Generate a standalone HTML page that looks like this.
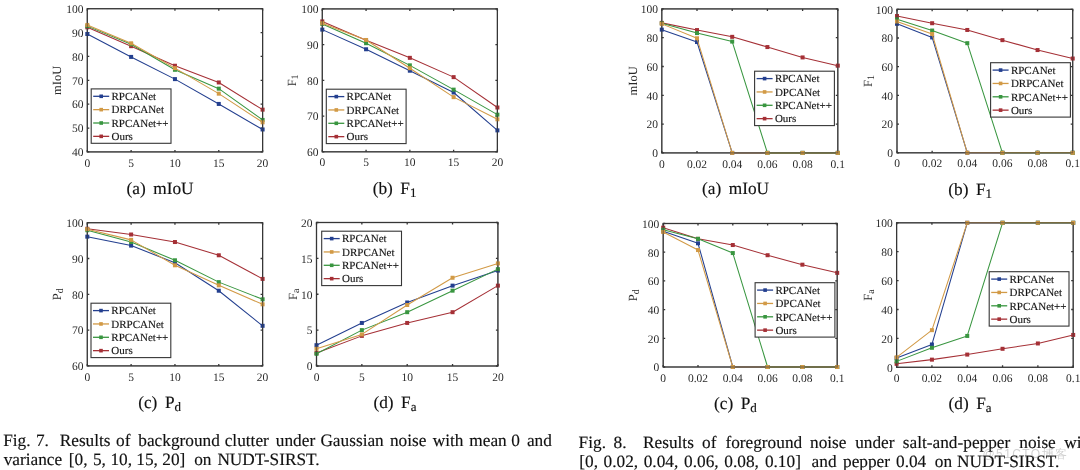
<!DOCTYPE html>
<html><head><meta charset="utf-8"><style>
html,body{margin:0;padding:0;background:#fff;}
svg text{text-rendering:geometricPrecision;}
body{width:1080px;height:470px;overflow:hidden;position:relative;filter:blur(0.35px);font-family:"Liberation Serif", serif;color:#1a1a1a;}
.cap{position:absolute;font-size:17px;line-height:18.8px;white-space:nowrap;}
.wm{position:absolute;left:982.5px;top:446px;font-family:"Liberation Sans",sans-serif;font-size:12px;letter-spacing:1.4px;line-height:normal;color:rgba(140,140,140,0.4);}
</style></head><body>
<svg width="1080" height="470" viewBox="0 0 1080 470" style="position:absolute;left:0;top:0;font-family:'Liberation Serif',serif"><rect x="87.3" y="8.7" width="175.3" height="143.2" fill="none" stroke="#363636" stroke-width="1.2"/><g stroke="#363636" stroke-width="1.3" fill="none"><path d="M87.3 151.9V149.9M87.3 8.7V10.7"/><path d="M131.12 151.9V149.9M131.12 8.7V10.7"/><path d="M174.95 151.9V149.9M174.95 8.7V10.7"/><path d="M218.78 151.9V149.9M218.78 8.7V10.7"/><path d="M262.6 151.9V149.9M262.6 8.7V10.7"/><path d="M87.3 151.9H89.3M262.6 151.9H260.6"/><path d="M87.3 128.03H89.3M262.6 128.03H260.6"/><path d="M87.3 104.17H89.3M262.6 104.17H260.6"/><path d="M87.3 80.3H89.3M262.6 80.3H260.6"/><path d="M87.3 56.43H89.3M262.6 56.43H260.6"/><path d="M87.3 32.57H89.3M262.6 32.57H260.6"/><path d="M87.3 8.7H89.3M262.6 8.7H260.6"/></g><path d="M87.3 34L131.12 56.91L174.95 79.11L218.78 103.93L262.6 129.47" stroke="#233f8f" stroke-width="1.05" fill="none" stroke-linejoin="round"/><rect x="85.3" y="32" width="4" height="4" fill="#233f8f"/><rect x="129.12" y="54.91" width="4" height="4" fill="#233f8f"/><rect x="172.95" y="77.11" width="4" height="4" fill="#233f8f"/><rect x="216.78" y="101.93" width="4" height="4" fill="#233f8f"/><rect x="260.6" y="127.47" width="4" height="4" fill="#233f8f"/><path d="M87.3 27.32L131.12 46.17L174.95 65.74L218.78 82.45L262.6 109.66" stroke="#a53036" stroke-width="1.05" fill="none" stroke-linejoin="round"/><rect x="85.3" y="25.32" width="4" height="4" fill="#a53036"/><rect x="129.12" y="44.17" width="4" height="4" fill="#a53036"/><rect x="172.95" y="63.74" width="4" height="4" fill="#a53036"/><rect x="216.78" y="80.45" width="4" height="4" fill="#a53036"/><rect x="260.6" y="107.66" width="4" height="4" fill="#a53036"/><path d="M87.3 26.12L131.12 44.26L174.95 69.8L218.78 88.65L262.6 119.92" stroke="#399640" stroke-width="1.05" fill="none" stroke-linejoin="round"/><rect x="85.3" y="24.12" width="4" height="4" fill="#399640"/><rect x="129.12" y="42.26" width="4" height="4" fill="#399640"/><rect x="172.95" y="67.8" width="4" height="4" fill="#399640"/><rect x="216.78" y="86.65" width="4" height="4" fill="#399640"/><rect x="260.6" y="117.92" width="4" height="4" fill="#399640"/><path d="M87.3 24.93L131.12 43.31L174.95 68.13L218.78 93.67L262.6 122.31" stroke="#d29a46" stroke-width="1.05" fill="none" stroke-linejoin="round"/><rect x="85.3" y="22.93" width="4" height="4" fill="#d29a46"/><rect x="129.12" y="41.31" width="4" height="4" fill="#d29a46"/><rect x="172.95" y="66.13" width="4" height="4" fill="#d29a46"/><rect x="216.78" y="91.67" width="4" height="4" fill="#d29a46"/><rect x="260.6" y="120.31" width="4" height="4" fill="#d29a46"/><rect x="87.3" y="8.7" width="175.3" height="143.2" fill="none" stroke="#363636" stroke-width="1.2" stroke-opacity="0.55"/><rect x="91.2" y="88.9" width="79.8" height="54.4" fill="#fff" stroke="#363636" stroke-width="1.1"/><path d="M93.2 96.3H109.2" stroke="#233f8f" stroke-width="1.3"/><rect x="99.4" y="94.5" width="3.6" height="3.6" fill="#233f8f"/><text x="111.5" y="100" font-size="11" fill="#151515" stroke="#151515" stroke-width="0.15">RPCANet</text><path d="M93.2 109.65H109.2" stroke="#d29a46" stroke-width="1.3"/><rect x="99.4" y="107.85" width="3.6" height="3.6" fill="#d29a46"/><text x="111.5" y="113.35" font-size="11" fill="#151515" stroke="#151515" stroke-width="0.15">DRPCANet</text><path d="M93.2 123H109.2" stroke="#399640" stroke-width="1.3"/><rect x="99.4" y="121.2" width="3.6" height="3.6" fill="#399640"/><text x="111.5" y="126.7" font-size="11" fill="#151515" stroke="#151515" stroke-width="0.15">RPCANet++</text><path d="M93.2 136.35H109.2" stroke="#a53036" stroke-width="1.3"/><rect x="99.4" y="134.55" width="3.6" height="3.6" fill="#a53036"/><text x="111.5" y="140.05" font-size="11" fill="#151515" stroke="#151515" stroke-width="0.15">Ours</text><g font-size="11.5" fill="#2a2a2a"><text x="87.3" y="166.5" text-anchor="middle">0</text><text x="131.12" y="166.5" text-anchor="middle">5</text><text x="174.95" y="166.5" text-anchor="middle">10</text><text x="218.78" y="166.5" text-anchor="middle">15</text><text x="262.6" y="166.5" text-anchor="middle">20</text><text x="83.4" y="156.2" text-anchor="end">40</text><text x="83.4" y="132.33" text-anchor="end">50</text><text x="83.4" y="108.47" text-anchor="end">60</text><text x="83.4" y="84.6" text-anchor="end">70</text><text x="83.4" y="60.73" text-anchor="end">80</text><text x="83.4" y="36.87" text-anchor="end">90</text><text x="83.4" y="13" text-anchor="end">100</text></g><text transform="translate(61.2 80.3) rotate(-90)" text-anchor="middle" font-size="12.5" fill="#2a2a2a">mIoU</text><rect x="322.3" y="8.9" width="175.1" height="142.9" fill="none" stroke="#363636" stroke-width="1.2"/><g stroke="#363636" stroke-width="1.3" fill="none"><path d="M322.3 151.8V149.8M322.3 8.9V10.9"/><path d="M366.07 151.8V149.8M366.07 8.9V10.9"/><path d="M409.85 151.8V149.8M409.85 8.9V10.9"/><path d="M453.62 151.8V149.8M453.62 8.9V10.9"/><path d="M497.4 151.8V149.8M497.4 8.9V10.9"/><path d="M322.3 151.8H324.3M497.4 151.8H495.4"/><path d="M322.3 116.08H324.3M497.4 116.08H495.4"/><path d="M322.3 80.35H324.3M497.4 80.35H495.4"/><path d="M322.3 44.62H324.3M497.4 44.62H495.4"/><path d="M322.3 8.9H324.3M497.4 8.9H495.4"/></g><path d="M322.3 29.62L366.07 49.27L409.85 70.7L453.62 92.5L497.4 130.37" stroke="#233f8f" stroke-width="1.05" fill="none" stroke-linejoin="round"/><rect x="320.3" y="27.62" width="4" height="4" fill="#233f8f"/><rect x="364.07" y="47.27" width="4" height="4" fill="#233f8f"/><rect x="407.85" y="68.7" width="4" height="4" fill="#233f8f"/><rect x="451.62" y="90.5" width="4" height="4" fill="#233f8f"/><rect x="495.4" y="128.37" width="4" height="4" fill="#233f8f"/><path d="M322.3 21.4L366.07 40.34L409.85 57.84L453.62 77.13L497.4 107.5" stroke="#a53036" stroke-width="1.05" fill="none" stroke-linejoin="round"/><rect x="320.3" y="19.4" width="4" height="4" fill="#a53036"/><rect x="364.07" y="38.34" width="4" height="4" fill="#a53036"/><rect x="407.85" y="55.84" width="4" height="4" fill="#a53036"/><rect x="451.62" y="75.13" width="4" height="4" fill="#a53036"/><rect x="495.4" y="105.5" width="4" height="4" fill="#a53036"/><path d="M322.3 23.9L366.07 43.2L409.85 65.35L453.62 89.64L497.4 114.65" stroke="#399640" stroke-width="1.05" fill="none" stroke-linejoin="round"/><rect x="320.3" y="21.9" width="4" height="4" fill="#399640"/><rect x="364.07" y="41.2" width="4" height="4" fill="#399640"/><rect x="407.85" y="63.35" width="4" height="4" fill="#399640"/><rect x="451.62" y="87.64" width="4" height="4" fill="#399640"/><rect x="495.4" y="112.65" width="4" height="4" fill="#399640"/><path d="M322.3 23.19L366.07 39.98L409.85 68.2L453.62 97.14L497.4 119.29" stroke="#d29a46" stroke-width="1.05" fill="none" stroke-linejoin="round"/><rect x="320.3" y="21.19" width="4" height="4" fill="#d29a46"/><rect x="364.07" y="37.98" width="4" height="4" fill="#d29a46"/><rect x="407.85" y="66.2" width="4" height="4" fill="#d29a46"/><rect x="451.62" y="95.14" width="4" height="4" fill="#d29a46"/><rect x="495.4" y="117.29" width="4" height="4" fill="#d29a46"/><rect x="322.3" y="8.9" width="175.1" height="142.9" fill="none" stroke="#363636" stroke-width="1.2" stroke-opacity="0.55"/><rect x="326.3" y="89.2" width="79.8" height="54.4" fill="#fff" stroke="#363636" stroke-width="1.1"/><path d="M328.3 96.6H344.3" stroke="#233f8f" stroke-width="1.3"/><rect x="334.5" y="94.8" width="3.6" height="3.6" fill="#233f8f"/><text x="346.6" y="100.3" font-size="11" fill="#151515" stroke="#151515" stroke-width="0.15">RPCANet</text><path d="M328.3 109.95H344.3" stroke="#d29a46" stroke-width="1.3"/><rect x="334.5" y="108.15" width="3.6" height="3.6" fill="#d29a46"/><text x="346.6" y="113.65" font-size="11" fill="#151515" stroke="#151515" stroke-width="0.15">DRPCANet</text><path d="M328.3 123.3H344.3" stroke="#399640" stroke-width="1.3"/><rect x="334.5" y="121.5" width="3.6" height="3.6" fill="#399640"/><text x="346.6" y="127" font-size="11" fill="#151515" stroke="#151515" stroke-width="0.15">RPCANet++</text><path d="M328.3 136.65H344.3" stroke="#a53036" stroke-width="1.3"/><rect x="334.5" y="134.85" width="3.6" height="3.6" fill="#a53036"/><text x="346.6" y="140.35" font-size="11" fill="#151515" stroke="#151515" stroke-width="0.15">Ours</text><g font-size="11.5" fill="#2a2a2a"><text x="322.3" y="166.4" text-anchor="middle">0</text><text x="366.07" y="166.4" text-anchor="middle">5</text><text x="409.85" y="166.4" text-anchor="middle">10</text><text x="453.62" y="166.4" text-anchor="middle">15</text><text x="497.4" y="166.4" text-anchor="middle">20</text><text x="318.4" y="156.1" text-anchor="end">60</text><text x="318.4" y="120.38" text-anchor="end">70</text><text x="318.4" y="84.65" text-anchor="end">80</text><text x="318.4" y="48.92" text-anchor="end">90</text><text x="318.4" y="13.2" text-anchor="end">100</text></g><text transform="translate(296.2 80.35) rotate(-90)" text-anchor="middle" font-size="12.5" fill="#2a2a2a">F<tspan font-size="10" dy="2">1</tspan></text><rect x="87.3" y="222.7" width="175.3" height="143.2" fill="none" stroke="#363636" stroke-width="1.2"/><g stroke="#363636" stroke-width="1.3" fill="none"><path d="M87.3 365.9V363.9M87.3 222.7V224.7"/><path d="M131.12 365.9V363.9M131.12 222.7V224.7"/><path d="M174.95 365.9V363.9M174.95 222.7V224.7"/><path d="M218.78 365.9V363.9M218.78 222.7V224.7"/><path d="M262.6 365.9V363.9M262.6 222.7V224.7"/><path d="M87.3 365.9H89.3M262.6 365.9H260.6"/><path d="M87.3 330.1H89.3M262.6 330.1H260.6"/><path d="M87.3 294.3H89.3M262.6 294.3H260.6"/><path d="M87.3 258.5H89.3M262.6 258.5H260.6"/><path d="M87.3 222.7H89.3M262.6 222.7H260.6"/></g><path d="M87.3 236.66L131.12 245.61L174.95 262.8L218.78 290.72L262.6 325.8" stroke="#233f8f" stroke-width="1.05" fill="none" stroke-linejoin="round"/><rect x="85.3" y="234.66" width="4" height="4" fill="#233f8f"/><rect x="129.12" y="243.61" width="4" height="4" fill="#233f8f"/><rect x="172.95" y="260.8" width="4" height="4" fill="#233f8f"/><rect x="216.78" y="288.72" width="4" height="4" fill="#233f8f"/><rect x="260.6" y="323.8" width="4" height="4" fill="#233f8f"/><path d="M87.3 228.79L131.12 234.51L174.95 242.03L218.78 255.28L262.6 278.91" stroke="#a53036" stroke-width="1.05" fill="none" stroke-linejoin="round"/><rect x="85.3" y="226.79" width="4" height="4" fill="#a53036"/><rect x="129.12" y="232.51" width="4" height="4" fill="#a53036"/><rect x="172.95" y="240.03" width="4" height="4" fill="#a53036"/><rect x="216.78" y="253.28" width="4" height="4" fill="#a53036"/><rect x="260.6" y="276.91" width="4" height="4" fill="#a53036"/><path d="M87.3 230.22L131.12 242.03L174.95 260.29L218.78 282.13L262.6 299.31" stroke="#399640" stroke-width="1.05" fill="none" stroke-linejoin="round"/><rect x="85.3" y="228.22" width="4" height="4" fill="#399640"/><rect x="129.12" y="240.03" width="4" height="4" fill="#399640"/><rect x="172.95" y="258.29" width="4" height="4" fill="#399640"/><rect x="216.78" y="280.13" width="4" height="4" fill="#399640"/><rect x="260.6" y="297.31" width="4" height="4" fill="#399640"/><path d="M87.3 229.14L131.12 239.88L174.95 265.3L218.78 285.35L262.6 304.32" stroke="#d29a46" stroke-width="1.05" fill="none" stroke-linejoin="round"/><rect x="85.3" y="227.14" width="4" height="4" fill="#d29a46"/><rect x="129.12" y="237.88" width="4" height="4" fill="#d29a46"/><rect x="172.95" y="263.3" width="4" height="4" fill="#d29a46"/><rect x="216.78" y="283.35" width="4" height="4" fill="#d29a46"/><rect x="260.6" y="302.32" width="4" height="4" fill="#d29a46"/><rect x="87.3" y="222.7" width="175.3" height="143.2" fill="none" stroke="#363636" stroke-width="1.2" stroke-opacity="0.55"/><rect x="91" y="303.2" width="79.8" height="54.4" fill="#fff" stroke="#363636" stroke-width="1.1"/><path d="M93 310.6H109" stroke="#233f8f" stroke-width="1.3"/><rect x="99.2" y="308.8" width="3.6" height="3.6" fill="#233f8f"/><text x="111.3" y="314.3" font-size="11" fill="#151515" stroke="#151515" stroke-width="0.15">RPCANet</text><path d="M93 323.95H109" stroke="#d29a46" stroke-width="1.3"/><rect x="99.2" y="322.15" width="3.6" height="3.6" fill="#d29a46"/><text x="111.3" y="327.65" font-size="11" fill="#151515" stroke="#151515" stroke-width="0.15">DRPCANet</text><path d="M93 337.3H109" stroke="#399640" stroke-width="1.3"/><rect x="99.2" y="335.5" width="3.6" height="3.6" fill="#399640"/><text x="111.3" y="341" font-size="11" fill="#151515" stroke="#151515" stroke-width="0.15">RPCANet++</text><path d="M93 350.65H109" stroke="#a53036" stroke-width="1.3"/><rect x="99.2" y="348.85" width="3.6" height="3.6" fill="#a53036"/><text x="111.3" y="354.35" font-size="11" fill="#151515" stroke="#151515" stroke-width="0.15">Ours</text><g font-size="11.5" fill="#2a2a2a"><text x="87.3" y="380.5" text-anchor="middle">0</text><text x="131.12" y="380.5" text-anchor="middle">5</text><text x="174.95" y="380.5" text-anchor="middle">10</text><text x="218.78" y="380.5" text-anchor="middle">15</text><text x="262.6" y="380.5" text-anchor="middle">20</text><text x="83.4" y="370.2" text-anchor="end">60</text><text x="83.4" y="334.4" text-anchor="end">70</text><text x="83.4" y="298.6" text-anchor="end">80</text><text x="83.4" y="262.8" text-anchor="end">90</text><text x="83.4" y="227" text-anchor="end">100</text></g><text transform="translate(61.2 294.3) rotate(-90)" text-anchor="middle" font-size="12.5" fill="#2a2a2a">P<tspan font-size="10" dy="2">d</tspan></text><rect x="316.5" y="222.5" width="181.4" height="143.5" fill="none" stroke="#363636" stroke-width="1.2"/><g stroke="#363636" stroke-width="1.3" fill="none"><path d="M316.5 366V364M316.5 222.5V224.5"/><path d="M361.85 366V364M361.85 222.5V224.5"/><path d="M407.2 366V364M407.2 222.5V224.5"/><path d="M452.55 366V364M452.55 222.5V224.5"/><path d="M497.9 366V364M497.9 222.5V224.5"/><path d="M316.5 366H318.5M497.9 366H495.9"/><path d="M316.5 330.12H318.5M497.9 330.12H495.9"/><path d="M316.5 294.25H318.5M497.9 294.25H495.9"/><path d="M316.5 258.38H318.5M497.9 258.38H495.9"/><path d="M316.5 222.5H318.5M497.9 222.5H495.9"/></g><path d="M316.5 345.19L361.85 322.95L407.2 302.5L452.55 285.64L497.9 270.57" stroke="#233f8f" stroke-width="1.05" fill="none" stroke-linejoin="round"/><rect x="314.5" y="343.19" width="4" height="4" fill="#233f8f"/><rect x="359.85" y="320.95" width="4" height="4" fill="#233f8f"/><rect x="405.2" y="300.5" width="4" height="4" fill="#233f8f"/><rect x="450.55" y="283.64" width="4" height="4" fill="#233f8f"/><rect x="495.9" y="268.57" width="4" height="4" fill="#233f8f"/><path d="M316.5 353.08L361.85 335.87L407.2 322.95L452.55 312.19L497.9 285.64" stroke="#a53036" stroke-width="1.05" fill="none" stroke-linejoin="round"/><rect x="314.5" y="351.08" width="4" height="4" fill="#a53036"/><rect x="359.85" y="333.87" width="4" height="4" fill="#a53036"/><rect x="405.2" y="320.95" width="4" height="4" fill="#a53036"/><rect x="450.55" y="310.19" width="4" height="4" fill="#a53036"/><rect x="495.9" y="283.64" width="4" height="4" fill="#a53036"/><path d="M316.5 353.8L361.85 330.12L407.2 312.19L452.55 290.66L497.9 269.14" stroke="#399640" stroke-width="1.05" fill="none" stroke-linejoin="round"/><rect x="314.5" y="351.8" width="4" height="4" fill="#399640"/><rect x="359.85" y="328.12" width="4" height="4" fill="#399640"/><rect x="405.2" y="310.19" width="4" height="4" fill="#399640"/><rect x="450.55" y="288.66" width="4" height="4" fill="#399640"/><rect x="495.9" y="267.14" width="4" height="4" fill="#399640"/><path d="M316.5 348.78L361.85 334.43L407.2 305.01L452.55 277.75L497.9 263.4" stroke="#d29a46" stroke-width="1.05" fill="none" stroke-linejoin="round"/><rect x="314.5" y="346.78" width="4" height="4" fill="#d29a46"/><rect x="359.85" y="332.43" width="4" height="4" fill="#d29a46"/><rect x="405.2" y="303.01" width="4" height="4" fill="#d29a46"/><rect x="450.55" y="275.75" width="4" height="4" fill="#d29a46"/><rect x="495.9" y="261.4" width="4" height="4" fill="#d29a46"/><rect x="316.5" y="222.5" width="181.4" height="143.5" fill="none" stroke="#363636" stroke-width="1.2" stroke-opacity="0.55"/><rect x="321.7" y="231.2" width="79.8" height="54.4" fill="#fff" stroke="#363636" stroke-width="1.1"/><path d="M323.7 238.6H339.7" stroke="#233f8f" stroke-width="1.3"/><rect x="329.9" y="236.8" width="3.6" height="3.6" fill="#233f8f"/><text x="342" y="242.3" font-size="11" fill="#151515" stroke="#151515" stroke-width="0.15">RPCANet</text><path d="M323.7 251.95H339.7" stroke="#d29a46" stroke-width="1.3"/><rect x="329.9" y="250.15" width="3.6" height="3.6" fill="#d29a46"/><text x="342" y="255.65" font-size="11" fill="#151515" stroke="#151515" stroke-width="0.15">DRPCANet</text><path d="M323.7 265.3H339.7" stroke="#399640" stroke-width="1.3"/><rect x="329.9" y="263.5" width="3.6" height="3.6" fill="#399640"/><text x="342" y="269" font-size="11" fill="#151515" stroke="#151515" stroke-width="0.15">RPCANet++</text><path d="M323.7 278.65H339.7" stroke="#a53036" stroke-width="1.3"/><rect x="329.9" y="276.85" width="3.6" height="3.6" fill="#a53036"/><text x="342" y="282.35" font-size="11" fill="#151515" stroke="#151515" stroke-width="0.15">Ours</text><g font-size="11.5" fill="#2a2a2a"><text x="316.5" y="380.6" text-anchor="middle">0</text><text x="361.85" y="380.6" text-anchor="middle">5</text><text x="407.2" y="380.6" text-anchor="middle">10</text><text x="452.55" y="380.6" text-anchor="middle">15</text><text x="497.9" y="380.6" text-anchor="middle">20</text><text x="312.6" y="370.3" text-anchor="end">0</text><text x="312.6" y="334.43" text-anchor="end">5</text><text x="312.6" y="298.55" text-anchor="end">10</text><text x="312.6" y="262.68" text-anchor="end">15</text><text x="312.6" y="226.8" text-anchor="end">20</text></g><text transform="translate(296.7 294.25) rotate(-90)" text-anchor="middle" font-size="12.5" fill="#2a2a2a">F<tspan font-size="10" dy="2">a</tspan></text><rect x="661.8" y="8.9" width="176" height="144" fill="none" stroke="#363636" stroke-width="1.2"/><g stroke="#363636" stroke-width="1.3" fill="none"><path d="M661.8 152.9V150.9M661.8 8.9V10.9"/><path d="M697 152.9V150.9M697 8.9V10.9"/><path d="M732.2 152.9V150.9M732.2 8.9V10.9"/><path d="M767.4 152.9V150.9M767.4 8.9V10.9"/><path d="M802.6 152.9V150.9M802.6 8.9V10.9"/><path d="M837.8 152.9V150.9M837.8 8.9V10.9"/><path d="M661.8 152.9H663.8M837.8 152.9H835.8"/><path d="M661.8 124.1H663.8M837.8 124.1H835.8"/><path d="M661.8 95.3H663.8M837.8 95.3H835.8"/><path d="M661.8 66.5H663.8M837.8 66.5H835.8"/><path d="M661.8 37.7H663.8M837.8 37.7H835.8"/><path d="M661.8 8.9H663.8M837.8 8.9H835.8"/></g><path d="M661.8 29.64L697 42.02L732.2 152.9L767.4 152.9L802.6 152.9L837.8 152.9" stroke="#233f8f" stroke-width="1.05" fill="none" stroke-linejoin="round"/><rect x="659.8" y="27.64" width="4" height="4" fill="#233f8f"/><rect x="695" y="40.02" width="4" height="4" fill="#233f8f"/><rect x="730.2" y="150.9" width="4" height="4" fill="#233f8f"/><rect x="765.4" y="150.9" width="4" height="4" fill="#233f8f"/><rect x="800.6" y="150.9" width="4" height="4" fill="#233f8f"/><rect x="835.8" y="150.9" width="4" height="4" fill="#233f8f"/><path d="M661.8 22.87L697 30.07L732.2 36.84L767.4 47.06L802.6 57.43L837.8 65.64" stroke="#a53036" stroke-width="1.05" fill="none" stroke-linejoin="round"/><rect x="659.8" y="20.87" width="4" height="4" fill="#a53036"/><rect x="695" y="28.07" width="4" height="4" fill="#a53036"/><rect x="730.2" y="34.84" width="4" height="4" fill="#a53036"/><rect x="765.4" y="45.06" width="4" height="4" fill="#a53036"/><rect x="800.6" y="55.43" width="4" height="4" fill="#a53036"/><rect x="835.8" y="63.64" width="4" height="4" fill="#a53036"/><path d="M661.8 23.3L697 33.09L732.2 41.59L767.4 152.9L802.6 152.9L837.8 152.9" stroke="#399640" stroke-width="1.05" fill="none" stroke-linejoin="round"/><rect x="659.8" y="21.3" width="4" height="4" fill="#399640"/><rect x="695" y="31.09" width="4" height="4" fill="#399640"/><rect x="730.2" y="39.59" width="4" height="4" fill="#399640"/><rect x="765.4" y="150.9" width="4" height="4" fill="#399640"/><rect x="800.6" y="150.9" width="4" height="4" fill="#399640"/><rect x="835.8" y="150.9" width="4" height="4" fill="#399640"/><path d="M661.8 23.88L697 38.28L732.2 152.9L767.4 152.9L802.6 152.9L837.8 152.9" stroke="#d29a46" stroke-width="1.05" fill="none" stroke-linejoin="round"/><rect x="659.8" y="21.88" width="4" height="4" fill="#d29a46"/><rect x="695" y="36.28" width="4" height="4" fill="#d29a46"/><rect x="730.2" y="150.9" width="4" height="4" fill="#d29a46"/><rect x="765.4" y="150.9" width="4" height="4" fill="#d29a46"/><rect x="800.6" y="150.9" width="4" height="4" fill="#d29a46"/><rect x="835.8" y="150.9" width="4" height="4" fill="#d29a46"/><rect x="661.8" y="8.9" width="176" height="144" fill="none" stroke="#363636" stroke-width="1.2" stroke-opacity="0.55"/><rect x="754.6" y="71.2" width="79.8" height="54.4" fill="#fff" stroke="#363636" stroke-width="1.1"/><path d="M756.6 78.6H772.6" stroke="#233f8f" stroke-width="1.3"/><rect x="762.8" y="76.8" width="3.6" height="3.6" fill="#233f8f"/><text x="774.9" y="82.3" font-size="11" fill="#151515" stroke="#151515" stroke-width="0.15">RPCANet</text><path d="M756.6 91.95H772.6" stroke="#d29a46" stroke-width="1.3"/><rect x="762.8" y="90.15" width="3.6" height="3.6" fill="#d29a46"/><text x="774.9" y="95.65" font-size="11" fill="#151515" stroke="#151515" stroke-width="0.15">DPCANet</text><path d="M756.6 105.3H772.6" stroke="#399640" stroke-width="1.3"/><rect x="762.8" y="103.5" width="3.6" height="3.6" fill="#399640"/><text x="774.9" y="109" font-size="11" fill="#151515" stroke="#151515" stroke-width="0.15">RPCANet++</text><path d="M756.6 118.65H772.6" stroke="#a53036" stroke-width="1.3"/><rect x="762.8" y="116.85" width="3.6" height="3.6" fill="#a53036"/><text x="774.9" y="122.35" font-size="11" fill="#151515" stroke="#151515" stroke-width="0.15">Ours</text><g font-size="11.5" fill="#2a2a2a"><text x="661.8" y="167.5" text-anchor="middle">0</text><text x="697" y="167.5" text-anchor="middle">0.02</text><text x="732.2" y="167.5" text-anchor="middle">0.04</text><text x="767.4" y="167.5" text-anchor="middle">0.06</text><text x="802.6" y="167.5" text-anchor="middle">0.08</text><text x="837.8" y="167.5" text-anchor="middle">0.1</text><text x="657.9" y="157.2" text-anchor="end">0</text><text x="657.9" y="128.4" text-anchor="end">20</text><text x="657.9" y="99.6" text-anchor="end">40</text><text x="657.9" y="70.8" text-anchor="end">60</text><text x="657.9" y="42" text-anchor="end">80</text><text x="657.9" y="13.2" text-anchor="end">100</text></g><text transform="translate(637.2 80.9) rotate(-90)" text-anchor="middle" font-size="12.5" fill="#2a2a2a">mIoU</text><rect x="897" y="9.3" width="175.7" height="143.5" fill="none" stroke="#363636" stroke-width="1.2"/><g stroke="#363636" stroke-width="1.3" fill="none"><path d="M897 152.8V150.8M897 9.3V11.3"/><path d="M932.14 152.8V150.8M932.14 9.3V11.3"/><path d="M967.28 152.8V150.8M967.28 9.3V11.3"/><path d="M1002.42 152.8V150.8M1002.42 9.3V11.3"/><path d="M1037.56 152.8V150.8M1037.56 9.3V11.3"/><path d="M1072.7 152.8V150.8M1072.7 9.3V11.3"/><path d="M897 152.8H899M1072.7 152.8H1070.7"/><path d="M897 124.1H899M1072.7 124.1H1070.7"/><path d="M897 95.4H899M1072.7 95.4H1070.7"/><path d="M897 66.7H899M1072.7 66.7H1070.7"/><path d="M897 38H899M1072.7 38H1070.7"/><path d="M897 9.3H899M1072.7 9.3H1070.7"/></g><path d="M897 23.79L932.14 37.43L967.28 152.8L1002.42 152.8L1037.56 152.8L1072.7 152.8" stroke="#233f8f" stroke-width="1.05" fill="none" stroke-linejoin="round"/><rect x="895" y="21.79" width="4" height="4" fill="#233f8f"/><rect x="930.14" y="35.43" width="4" height="4" fill="#233f8f"/><rect x="965.28" y="150.8" width="4" height="4" fill="#233f8f"/><rect x="1000.42" y="150.8" width="4" height="4" fill="#233f8f"/><rect x="1035.56" y="150.8" width="4" height="4" fill="#233f8f"/><rect x="1070.7" y="150.8" width="4" height="4" fill="#233f8f"/><path d="M897 16.04L932.14 23.22L967.28 29.96L1002.42 40.15L1037.56 50.05L1072.7 58.52" stroke="#a53036" stroke-width="1.05" fill="none" stroke-linejoin="round"/><rect x="895" y="14.04" width="4" height="4" fill="#a53036"/><rect x="930.14" y="21.22" width="4" height="4" fill="#a53036"/><rect x="965.28" y="27.96" width="4" height="4" fill="#a53036"/><rect x="1000.42" y="38.15" width="4" height="4" fill="#a53036"/><rect x="1035.56" y="48.05" width="4" height="4" fill="#a53036"/><rect x="1070.7" y="56.52" width="4" height="4" fill="#a53036"/><path d="M897 19.34L932.14 30.54L967.28 43.17L1002.42 152.8L1037.56 152.8L1072.7 152.8" stroke="#399640" stroke-width="1.05" fill="none" stroke-linejoin="round"/><rect x="895" y="17.34" width="4" height="4" fill="#399640"/><rect x="930.14" y="28.54" width="4" height="4" fill="#399640"/><rect x="965.28" y="41.17" width="4" height="4" fill="#399640"/><rect x="1000.42" y="150.8" width="4" height="4" fill="#399640"/><rect x="1035.56" y="150.8" width="4" height="4" fill="#399640"/><rect x="1070.7" y="150.8" width="4" height="4" fill="#399640"/><path d="M897 21.5L932.14 33.98L967.28 152.8L1002.42 152.8L1037.56 152.8L1072.7 152.8" stroke="#d29a46" stroke-width="1.05" fill="none" stroke-linejoin="round"/><rect x="895" y="19.5" width="4" height="4" fill="#d29a46"/><rect x="930.14" y="31.98" width="4" height="4" fill="#d29a46"/><rect x="965.28" y="150.8" width="4" height="4" fill="#d29a46"/><rect x="1000.42" y="150.8" width="4" height="4" fill="#d29a46"/><rect x="1035.56" y="150.8" width="4" height="4" fill="#d29a46"/><rect x="1070.7" y="150.8" width="4" height="4" fill="#d29a46"/><rect x="897" y="9.3" width="175.7" height="143.5" fill="none" stroke="#363636" stroke-width="1.2" stroke-opacity="0.55"/><rect x="990.6" y="62.7" width="79.8" height="54.4" fill="#fff" stroke="#363636" stroke-width="1.1"/><path d="M992.6 70.1H1008.6" stroke="#233f8f" stroke-width="1.3"/><rect x="998.8" y="68.3" width="3.6" height="3.6" fill="#233f8f"/><text x="1010.9" y="73.8" font-size="11" fill="#151515" stroke="#151515" stroke-width="0.15">RPCANet</text><path d="M992.6 83.45H1008.6" stroke="#d29a46" stroke-width="1.3"/><rect x="998.8" y="81.65" width="3.6" height="3.6" fill="#d29a46"/><text x="1010.9" y="87.15" font-size="11" fill="#151515" stroke="#151515" stroke-width="0.15">DRPCANet</text><path d="M992.6 96.8H1008.6" stroke="#399640" stroke-width="1.3"/><rect x="998.8" y="95" width="3.6" height="3.6" fill="#399640"/><text x="1010.9" y="100.5" font-size="11" fill="#151515" stroke="#151515" stroke-width="0.15">RPCANet++</text><path d="M992.6 110.15H1008.6" stroke="#a53036" stroke-width="1.3"/><rect x="998.8" y="108.35" width="3.6" height="3.6" fill="#a53036"/><text x="1010.9" y="113.85" font-size="11" fill="#151515" stroke="#151515" stroke-width="0.15">Ours</text><g font-size="11.5" fill="#2a2a2a"><text x="897" y="167.4" text-anchor="middle">0</text><text x="932.14" y="167.4" text-anchor="middle">0.02</text><text x="967.28" y="167.4" text-anchor="middle">0.04</text><text x="1002.42" y="167.4" text-anchor="middle">0.06</text><text x="1037.56" y="167.4" text-anchor="middle">0.08</text><text x="1072.7" y="167.4" text-anchor="middle">0.1</text><text x="893.1" y="157.1" text-anchor="end">0</text><text x="893.1" y="128.4" text-anchor="end">20</text><text x="893.1" y="99.7" text-anchor="end">40</text><text x="893.1" y="71" text-anchor="end">60</text><text x="893.1" y="42.3" text-anchor="end">80</text><text x="893.1" y="13.6" text-anchor="end">100</text></g><text transform="translate(872.2 81.05) rotate(-90)" text-anchor="middle" font-size="12.5" fill="#2a2a2a">F<tspan font-size="10" dy="2">1</tspan></text><rect x="663.2" y="223.5" width="174" height="143.5" fill="none" stroke="#363636" stroke-width="1.2"/><g stroke="#363636" stroke-width="1.3" fill="none"><path d="M663.2 367V365M663.2 223.5V225.5"/><path d="M698 367V365M698 223.5V225.5"/><path d="M732.8 367V365M732.8 223.5V225.5"/><path d="M767.6 367V365M767.6 223.5V225.5"/><path d="M802.4 367V365M802.4 223.5V225.5"/><path d="M837.2 367V365M837.2 223.5V225.5"/><path d="M663.2 367H665.2M837.2 367H835.2"/><path d="M663.2 338.3H665.2M837.2 338.3H835.2"/><path d="M663.2 309.6H665.2M837.2 309.6H835.2"/><path d="M663.2 280.9H665.2M837.2 280.9H835.2"/><path d="M663.2 252.2H665.2M837.2 252.2H835.2"/><path d="M663.2 223.5H665.2M837.2 223.5H835.2"/></g><path d="M663.2 231.25L698 243.3L732.8 367L767.6 367L802.4 367L837.2 367" stroke="#233f8f" stroke-width="1.05" fill="none" stroke-linejoin="round"/><rect x="661.2" y="229.25" width="4" height="4" fill="#233f8f"/><rect x="696" y="241.3" width="4" height="4" fill="#233f8f"/><rect x="730.8" y="365" width="4" height="4" fill="#233f8f"/><rect x="765.6" y="365" width="4" height="4" fill="#233f8f"/><rect x="800.4" y="365" width="4" height="4" fill="#233f8f"/><rect x="835.2" y="365" width="4" height="4" fill="#233f8f"/><path d="M663.2 227.66L698 238.85L732.8 245.03L767.6 255.21L802.4 264.68L837.2 272.86" stroke="#a53036" stroke-width="1.05" fill="none" stroke-linejoin="round"/><rect x="661.2" y="225.66" width="4" height="4" fill="#a53036"/><rect x="696" y="236.85" width="4" height="4" fill="#a53036"/><rect x="730.8" y="243.03" width="4" height="4" fill="#a53036"/><rect x="765.6" y="253.21" width="4" height="4" fill="#a53036"/><rect x="800.4" y="262.68" width="4" height="4" fill="#a53036"/><rect x="835.2" y="270.86" width="4" height="4" fill="#a53036"/><path d="M663.2 229.67L698 238.85L732.8 253.06L767.6 367L802.4 367L837.2 367" stroke="#399640" stroke-width="1.05" fill="none" stroke-linejoin="round"/><rect x="661.2" y="227.67" width="4" height="4" fill="#399640"/><rect x="696" y="236.85" width="4" height="4" fill="#399640"/><rect x="730.8" y="251.06" width="4" height="4" fill="#399640"/><rect x="765.6" y="365" width="4" height="4" fill="#399640"/><rect x="800.4" y="365" width="4" height="4" fill="#399640"/><rect x="835.2" y="365" width="4" height="4" fill="#399640"/><path d="M663.2 231.97L698 250.05L732.8 367L767.6 367L802.4 367L837.2 367" stroke="#d29a46" stroke-width="1.05" fill="none" stroke-linejoin="round"/><rect x="661.2" y="229.97" width="4" height="4" fill="#d29a46"/><rect x="696" y="248.05" width="4" height="4" fill="#d29a46"/><rect x="730.8" y="365" width="4" height="4" fill="#d29a46"/><rect x="765.6" y="365" width="4" height="4" fill="#d29a46"/><rect x="800.4" y="365" width="4" height="4" fill="#d29a46"/><rect x="835.2" y="365" width="4" height="4" fill="#d29a46"/><rect x="663.2" y="223.5" width="174" height="143.5" fill="none" stroke="#363636" stroke-width="1.2" stroke-opacity="0.55"/><rect x="755.1" y="282.7" width="79.8" height="54.4" fill="#fff" stroke="#363636" stroke-width="1.1"/><path d="M757.1 290.1H773.1" stroke="#233f8f" stroke-width="1.3"/><rect x="763.3" y="288.3" width="3.6" height="3.6" fill="#233f8f"/><text x="775.4" y="293.8" font-size="11" fill="#151515" stroke="#151515" stroke-width="0.15">RPCANet</text><path d="M757.1 303.45H773.1" stroke="#d29a46" stroke-width="1.3"/><rect x="763.3" y="301.65" width="3.6" height="3.6" fill="#d29a46"/><text x="775.4" y="307.15" font-size="11" fill="#151515" stroke="#151515" stroke-width="0.15">DPCANet</text><path d="M757.1 316.8H773.1" stroke="#399640" stroke-width="1.3"/><rect x="763.3" y="315" width="3.6" height="3.6" fill="#399640"/><text x="775.4" y="320.5" font-size="11" fill="#151515" stroke="#151515" stroke-width="0.15">RPCANet++</text><path d="M757.1 330.15H773.1" stroke="#a53036" stroke-width="1.3"/><rect x="763.3" y="328.35" width="3.6" height="3.6" fill="#a53036"/><text x="775.4" y="333.85" font-size="11" fill="#151515" stroke="#151515" stroke-width="0.15">Ours</text><g font-size="11.5" fill="#2a2a2a"><text x="663.2" y="381.6" text-anchor="middle">0</text><text x="698" y="381.6" text-anchor="middle">0.02</text><text x="732.8" y="381.6" text-anchor="middle">0.04</text><text x="767.6" y="381.6" text-anchor="middle">0.06</text><text x="802.4" y="381.6" text-anchor="middle">0.08</text><text x="837.2" y="381.6" text-anchor="middle">0.1</text><text x="659.3" y="371.3" text-anchor="end">0</text><text x="659.3" y="342.6" text-anchor="end">20</text><text x="659.3" y="313.9" text-anchor="end">40</text><text x="659.3" y="285.2" text-anchor="end">60</text><text x="659.3" y="256.5" text-anchor="end">80</text><text x="659.3" y="227.8" text-anchor="end">100</text></g><text transform="translate(637.2 295.25) rotate(-90)" text-anchor="middle" font-size="12.5" fill="#2a2a2a">P<tspan font-size="10" dy="2">d</tspan></text><rect x="896.6" y="222.8" width="176.6" height="144.5" fill="none" stroke="#363636" stroke-width="1.2"/><g stroke="#363636" stroke-width="1.3" fill="none"><path d="M896.6 367.3V365.3M896.6 222.8V224.8"/><path d="M931.92 367.3V365.3M931.92 222.8V224.8"/><path d="M967.24 367.3V365.3M967.24 222.8V224.8"/><path d="M1002.56 367.3V365.3M1002.56 222.8V224.8"/><path d="M1037.88 367.3V365.3M1037.88 222.8V224.8"/><path d="M1073.2 367.3V365.3M1073.2 222.8V224.8"/><path d="M896.6 367.3H898.6M1073.2 367.3H1071.2"/><path d="M896.6 338.4H898.6M1073.2 338.4H1071.2"/><path d="M896.6 309.5H898.6M1073.2 309.5H1071.2"/><path d="M896.6 280.6H898.6M1073.2 280.6H1071.2"/><path d="M896.6 251.7H898.6M1073.2 251.7H1071.2"/><path d="M896.6 222.8H898.6M1073.2 222.8H1071.2"/></g><path d="M896.6 358.05L931.92 344.47L967.24 222.8L1002.56 222.8L1037.88 222.8L1073.2 222.8" stroke="#233f8f" stroke-width="1.05" fill="none" stroke-linejoin="round"/><rect x="894.6" y="356.05" width="4" height="4" fill="#233f8f"/><rect x="929.92" y="342.47" width="4" height="4" fill="#233f8f"/><rect x="965.24" y="220.8" width="4" height="4" fill="#233f8f"/><rect x="1000.56" y="220.8" width="4" height="4" fill="#233f8f"/><rect x="1035.88" y="220.8" width="4" height="4" fill="#233f8f"/><rect x="1071.2" y="220.8" width="4" height="4" fill="#233f8f"/><path d="M896.6 363.83L931.92 359.64L967.24 354.58L1002.56 348.8L1037.88 343.46L1073.2 334.93" stroke="#a53036" stroke-width="1.05" fill="none" stroke-linejoin="round"/><rect x="894.6" y="361.83" width="4" height="4" fill="#a53036"/><rect x="929.92" y="357.64" width="4" height="4" fill="#a53036"/><rect x="965.24" y="352.58" width="4" height="4" fill="#a53036"/><rect x="1000.56" y="346.8" width="4" height="4" fill="#a53036"/><rect x="1035.88" y="341.46" width="4" height="4" fill="#a53036"/><rect x="1071.2" y="332.93" width="4" height="4" fill="#a53036"/><path d="M896.6 361.38L931.92 347.79L967.24 335.94L1002.56 222.8L1037.88 222.8L1073.2 222.8" stroke="#399640" stroke-width="1.05" fill="none" stroke-linejoin="round"/><rect x="894.6" y="359.38" width="4" height="4" fill="#399640"/><rect x="929.92" y="345.79" width="4" height="4" fill="#399640"/><rect x="965.24" y="333.94" width="4" height="4" fill="#399640"/><rect x="1000.56" y="220.8" width="4" height="4" fill="#399640"/><rect x="1035.88" y="220.8" width="4" height="4" fill="#399640"/><rect x="1071.2" y="220.8" width="4" height="4" fill="#399640"/><path d="M896.6 357.33L931.92 330.16L967.24 222.8L1002.56 222.8L1037.88 222.8L1073.2 222.8" stroke="#d29a46" stroke-width="1.05" fill="none" stroke-linejoin="round"/><rect x="894.6" y="355.33" width="4" height="4" fill="#d29a46"/><rect x="929.92" y="328.16" width="4" height="4" fill="#d29a46"/><rect x="965.24" y="220.8" width="4" height="4" fill="#d29a46"/><rect x="1000.56" y="220.8" width="4" height="4" fill="#d29a46"/><rect x="1035.88" y="220.8" width="4" height="4" fill="#d29a46"/><rect x="1071.2" y="220.8" width="4" height="4" fill="#d29a46"/><rect x="896.6" y="222.8" width="176.6" height="144.5" fill="none" stroke="#363636" stroke-width="1.2" stroke-opacity="0.55"/><rect x="989.2" y="271.7" width="79.8" height="54.4" fill="#fff" stroke="#363636" stroke-width="1.1"/><path d="M991.2 279.1H1007.2" stroke="#233f8f" stroke-width="1.3"/><rect x="997.4" y="277.3" width="3.6" height="3.6" fill="#233f8f"/><text x="1009.5" y="282.8" font-size="11" fill="#151515" stroke="#151515" stroke-width="0.15">RPCANet</text><path d="M991.2 292.45H1007.2" stroke="#d29a46" stroke-width="1.3"/><rect x="997.4" y="290.65" width="3.6" height="3.6" fill="#d29a46"/><text x="1009.5" y="296.15" font-size="11" fill="#151515" stroke="#151515" stroke-width="0.15">DRPCANet</text><path d="M991.2 305.8H1007.2" stroke="#399640" stroke-width="1.3"/><rect x="997.4" y="304" width="3.6" height="3.6" fill="#399640"/><text x="1009.5" y="309.5" font-size="11" fill="#151515" stroke="#151515" stroke-width="0.15">RPCANet++</text><path d="M991.2 319.15H1007.2" stroke="#a53036" stroke-width="1.3"/><rect x="997.4" y="317.35" width="3.6" height="3.6" fill="#a53036"/><text x="1009.5" y="322.85" font-size="11" fill="#151515" stroke="#151515" stroke-width="0.15">Ours</text><g font-size="11.5" fill="#2a2a2a"><text x="896.6" y="381.9" text-anchor="middle">0</text><text x="931.92" y="381.9" text-anchor="middle">0.02</text><text x="967.24" y="381.9" text-anchor="middle">0.04</text><text x="1002.56" y="381.9" text-anchor="middle">0.06</text><text x="1037.88" y="381.9" text-anchor="middle">0.08</text><text x="1073.2" y="381.9" text-anchor="middle">0.1</text><text x="892.7" y="371.6" text-anchor="end">0</text><text x="892.7" y="342.7" text-anchor="end">20</text><text x="892.7" y="313.8" text-anchor="end">40</text><text x="892.7" y="284.9" text-anchor="end">60</text><text x="892.7" y="256" text-anchor="end">80</text><text x="892.7" y="227.1" text-anchor="end">100</text></g><text transform="translate(872.2 295.05) rotate(-90)" text-anchor="middle" font-size="12.5" fill="#2a2a2a">F<tspan font-size="10" dy="2">a</tspan></text><text x="126.6" y="194" font-size="17.3" fill="#111" stroke="#111" stroke-width="0.15">(a)<tspan dx="7.5">mIoU</tspan></text><text x="372.7" y="194" font-size="17.3" fill="#111" stroke="#111" stroke-width="0.15">(b)<tspan dx="7.5">F</tspan><tspan font-size="13" dy="3">1</tspan></text><text x="138.2" y="408.3" font-size="17.3" fill="#111" stroke="#111" stroke-width="0.15">(c)<tspan dx="7.5">P</tspan><tspan font-size="13" dy="3">d</tspan></text><text x="373.4" y="408.3" font-size="17.3" fill="#111" stroke="#111" stroke-width="0.15">(d)<tspan dx="7.5">F</tspan><tspan font-size="13" dy="3">a</tspan></text><text x="702" y="194.4" font-size="17.3" fill="#111" stroke="#111" stroke-width="0.15">(a)<tspan dx="7.5">mIoU</tspan></text><text x="948.3" y="194.6" font-size="17.3" fill="#111" stroke="#111" stroke-width="0.15">(b)<tspan dx="7.5">F</tspan><tspan font-size="13" dy="3">1</tspan></text><text x="714" y="409" font-size="17.3" fill="#111" stroke="#111" stroke-width="0.15">(c)<tspan dx="7.5">P</tspan><tspan font-size="13" dy="3">d</tspan></text><text x="948.5" y="409" font-size="17.3" fill="#111" stroke="#111" stroke-width="0.15">(d)<tspan dx="7.5">F</tspan><tspan font-size="13" dy="3">a</tspan></text><g font-size="17.3" fill="#111" stroke="#111" stroke-width="0.15"><text x="3.2" y="446.4">Fig.</text><text x="35.9" y="446.4">7.</text><text x="59.7" y="446.4">Results</text><text x="116" y="446.4">of</text><text x="138.3" y="446.4">background</text><text x="224.7" y="446.4">clutter</text><text x="275.8" y="446.4">under</text><text x="320.4" y="446.4">Gaussian</text><text x="389.9" y="446.4">noise</text><text x="432.7" y="446.4">with</text><text x="469.3" y="446.4">mean</text><text x="511.3" y="446.4">0</text><text x="526.9" y="446.4">and</text><text x="3.7" y="465.4">variance</text><text x="68.8" y="465.4">[0,</text><text x="92.9" y="465.4">5,</text><text x="110.4" y="465.4">10,</text><text x="136.3" y="465.4">15,</text><text x="162.3" y="465.4">20]</text><text x="194.2" y="465.4">on</text><text x="217.4" y="465.4">NUDT-SIRST.</text><text x="578.6" y="447.6">Fig.</text><text x="613.6" y="447.6">8.</text><text x="643" y="447.6">Results</text><text x="702.1" y="447.6">of</text><text x="725.4" y="447.6">foreground</text><text x="810" y="447.6">noise</text><text x="855.2" y="447.6">under</text><text x="902.8" y="447.6">salt-and-pepper</text><text x="1019.3" y="447.6">noise</text><text x="1064.2" y="447.6">with</text><text x="579.3" y="467.1">[0,</text><text x="603.6" y="467.1">0.02,</text><text x="643.7" y="467.1">0.04,</text><text x="684.1" y="467.1">0.06,</text><text x="724.3" y="467.1">0.08,</text><text x="764.9" y="467.1">0.10]</text><text x="811.6" y="467.1">and</text><text x="843" y="467.1">pepper</text><text x="896" y="467.1">0.04</text><text x="934.8" y="467.1">on</text><text x="957.1" y="467.1">NUDT-SIRST.</text></g></svg>
<div class="wm">@51CTO博客</div>
</body></html>
